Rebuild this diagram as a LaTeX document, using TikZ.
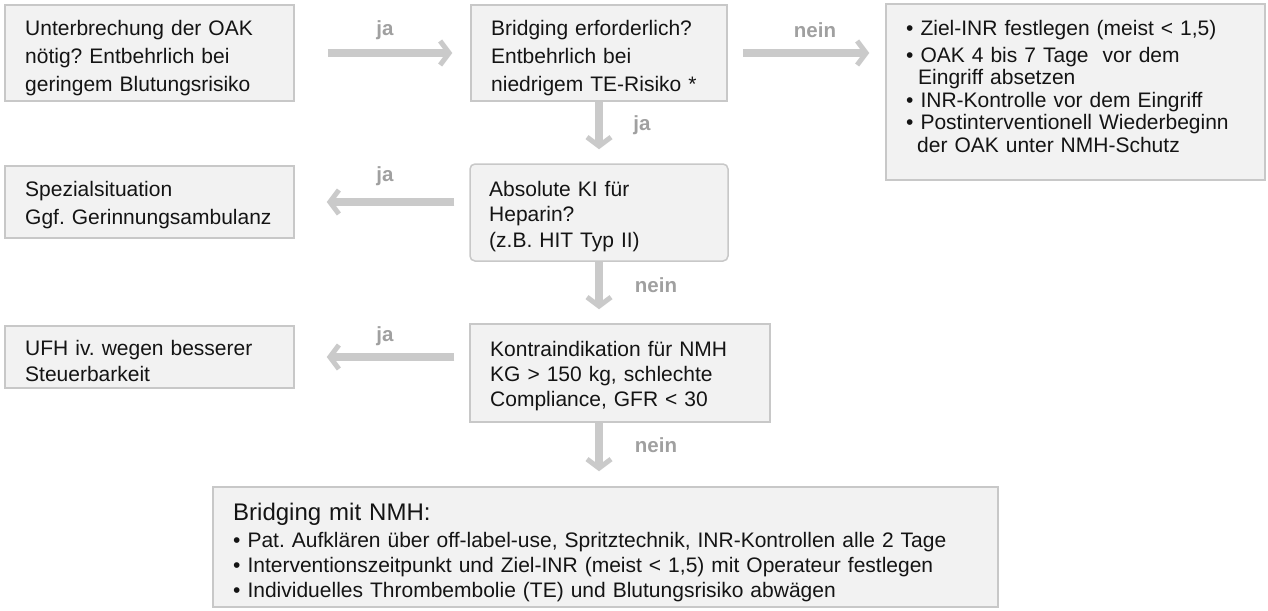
\documentclass[tikz,border=0pt]{standalone}
\usepackage{fontspec}
\setmainfont{Liberation Sans}
\usetikzlibrary{arrows.meta}
\definecolor{boxfill}{RGB}{242,242,242}
\definecolor{boxline}{RGB}{200,200,200}
\definecolor{arrowcol}{RGB}{202,202,202}
\definecolor{lblcol}{RGB}{160,160,160}
\definecolor{txtcol}{RGB}{20,20,20}
\frenchspacing
\begin{document}
\begin{tikzpicture}[x=1pt,y=-1pt,
  box/.style={draw=boxline, fill=boxfill, line width=1.5pt, inner sep=0pt},
  txt/.style={anchor=base west, inner sep=0pt, align=left, text width=#1, text=txtcol,
    font=\fontsize{21}{28}\selectfont},
  lbl/.style={inner sep=0pt, text=lblcol, font=\fontsize{20.5}{24}\selectfont\bfseries},
  arr/.style={draw=arrowcol, line width=8pt,
    -{Straight Barb[length=9pt, width=24pt, line width=5pt]}}
]
\fill[white] (0,0) rectangle (1268,610);
\useasboundingbox (0,0) rectangle (1268,610);

% boxes
\node[box, minimum width=289pt, minimum height=96pt] (b1) at (149.5,53) {};
\node[box, minimum width=256pt, minimum height=96pt] (b2) at (599,53) {};
\node[box, minimum width=379pt, minimum height=176pt] (b3) at (1075.5,92) {};
\node[box, minimum width=289pt, minimum height=72pt] (spez) at (149.5,202) {};
\node[box, rounded corners=5pt, minimum width=258pt, minimum height=97pt] (abs) at (599,212.5) {};
\node[box, minimum width=289pt, minimum height=62pt] (ufh) at (149.5,357) {};
\node[box, minimum width=300pt, minimum height=98pt] (kontra) at (620,373) {};
\node[box, minimum width=785pt, minimum height=120pt] (bridge) at (605.5,547) {};

% texts
\node[txt=265pt] (t1) at (25,36) {Unterbrechung der OAK\\nötig? Entbehrlich bei\\geringem Blutungsrisiko};
\node[txt=230pt] (t2) at (491,36) {Bridging erforderlich?\\Entbehrlich bei\\niedrigem TE-Risiko *};
\node[txt=355pt, font=\fontsize{21}{22.5}\selectfont] (t3) at (906,36)
  {• Ziel-INR festlegen (meist < 1,5)\\[4pt]
   • OAK 4 bis 7 Tage~ vor dem\\
   \hspace*{12pt}Eingriff absetzen\\
   • INR-Kontrolle vor dem Eingriff\\
   • Postinterventionell Wiederbeginn\\
   \hspace*{11pt}der OAK unter NMH-Schutz};
\node[txt=265pt] (tspez) at (25,196) {Spezialsituation\\Ggf. Gerinnungsambulanz};
\node[txt=235pt, font=\fontsize{21}{25.5}\selectfont] (tabs) at (489,196) {Absolute KI für\\Heparin?\\(z.B. HIT Typ II)};
\node[txt=265pt, font=\fontsize{21}{26.5}\selectfont] (tufh) at (25,355) {UFH iv. wegen besserer\\Steuerbarkeit};
\node[txt=275pt, font=\fontsize{21}{25}\selectfont] (tkontra) at (490,356) {Kontraindikation für NMH\\KG > 150 kg, schlechte\\Compliance, GFR < 30};
\node[txt=760pt, font=\fontsize{24}{28}\selectfont] (tb0) at (233,520) {Bridging mit NMH:};
\node[txt=760pt, font=\fontsize{21}{25}\selectfont] (tb1) at (233,547)
  {• Pat. Aufklären über off-label-use, Spritztechnik, INR-Kontrollen alle 2 Tage\\
   • Interventionszeitpunkt und Ziel-INR (meist < 1,5) mit Operateur festlegen\\
   • Individuelles Thrombembolie (TE) und Blutungsrisiko abwägen};

% connectors
\draw[arr, shorten <=33pt, shorten >=18pt] (b1.east) -- (b2.west);
\draw[arr, shorten <=15pt, shorten >=16pt] (b2.east) -- (b2.east -| b3.west);
\draw[arr, shorten >=14pt] (b2.south) -- (abs.north);
\draw[arr, shorten >=14pt] (abs.south) -- (abs.south |- kontra.north);
\draw[arr, shorten >=15pt] (kontra.south -| abs.south) -- (bridge.north -| abs.south);
\draw[arr, shorten <=15pt, shorten >=32pt] (abs.west |- spez.east) -- (spez.east);
\draw[arr, shorten <=15pt, shorten >=32pt] (kontra.west |- ufh.east) -- (ufh.east);

% labels
\node[lbl] (l1) at (385,30) {ja};
\node[lbl] (l2) at (815,30) {nein};
\node[lbl] (l3) at (642,125) {ja};
\node[lbl] (l4) at (385,176) {ja};
\node[lbl] (l5) at (656,285) {nein};
\node[lbl] (l6) at (385,336) {ja};
\node[lbl] (l7) at (656,445) {nein};
\end{tikzpicture}
\end{document}
